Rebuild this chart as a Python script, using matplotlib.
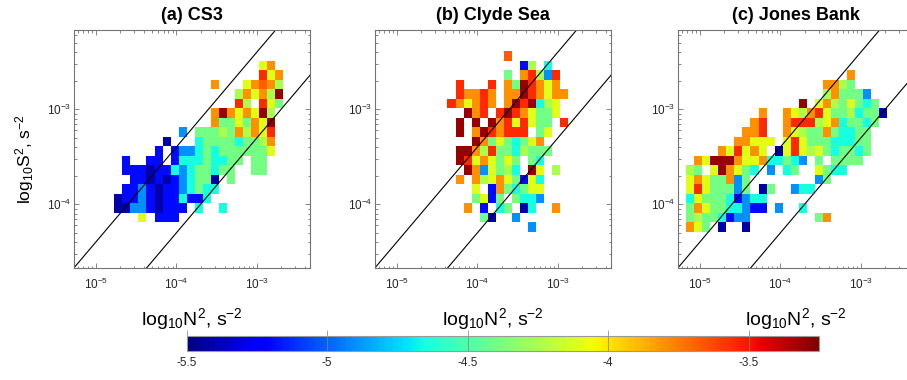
import numpy as np
import matplotlib
matplotlib.use("Agg")
import matplotlib.pyplot as plt
from matplotlib.ticker import FixedLocator, LogLocator, NullFormatter

plt.rcParams['font.family'] = ['Liberation Sans', 'DejaVu Sans']
plt.rcParams['axes.unicode_minus'] = False
plt.rcParams['mathtext.fontset'] = 'custom'
plt.rcParams['mathtext.rm'] = 'Liberation Sans'
plt.rcParams['mathtext.it'] = 'Liberation Sans'

# ---------------- data ----------------
titles = ["(a) CS3", "(b) Clyde Sea", "(c) Jones Bank"]
xlabel = r"log$_{10}$N$^2$, s$^{-2}$"
ylabel = r"log$_{10}$S$^2$, s$^{-2}$"

# colour level codes -> value of the colour variable
level_values = {'n': -5.42, 'B': -5.2, 'b': -4.9, 'c': -4.65, 'g': -4.4,
                'y': -4.25, 'Y': -4.1, 'O': -3.8, 'r': -3.68, 'R': -3.55,
                'D': -3.3}

# bin grids (top row first); '.' = empty bin
grid_a = [
    "..................YO.",
    "..................RYO",
    "............O...YOrOy",
    "...............yOYOyD",
    "...............Ry.RYg",
    "............ODOYOYDy.",
    "............OggYgOYD.",
    "........b.gggygOyOYR.",
    "......n...cggggcggyO.",
    ".....B.BbbcgcggggggY.",
    ".B..BB.Bcccgccgg.gg..",
    ".BBBnBBcbcggcgg..gg..",
    "..BBnBnBbcggn.g......",
    ".BBbBnBBbcgcc........",
    "nBBbBnBBcBBc.........",
    "nnbbBnBBB.c..c.......",
    "...Y.BBB.............",
]
first_col_a, top_row_a = 0, 15

grid_b = [
    "...........r........",
    ".............By.c...",
    "...........g.ORybR..",
    ".....R...R.OgDROYO..",
    ".....ROORO.OODROYOO.",
    "....ROYORO.ODRDcyY..",
    "......DOR.RDROYggY..",
    ".....D.D.DORYRYgg.R.",
    ".....D.ODRORRR.gY...",
    ".......DOgYgcgYO....",
    ".....DDOyRggcyggg...",
    ".....DRYOYgYg.gc....",
    "......DObYgyc.DY.y..",
    ".....O.OyYOYgBYc....",
    ".......Y.BOgcgYY....",
    ".......gYBg.gccb....",
    "......O.B.cg.nc..O..",
    "........gn..b.......",
    "..............b.....",
]
first_col_b, top_row_b = 0, 16

grid_c = [
    "....................O....",
    ".................OOyg....",
    ".................yOgggb..",
    "..............D.YOygYgcg.",
    ".........O..OYyORYggycggn",
    "........OR..ORRRyYOcggcg.",
    ".......OOR..OYyggOgccgg..",
    "......OOYYY.YRYgggcccgg..",
    "....OYRYOY.nYRYyYgcggcg..",
    ".OYDDDOYYOccgcb.g.gggg...",
    "yg.YDOYgc.b.cg..Ygcc.....",
    "YOYggObg........bg.......",
    "YRYgggbg.ng..bcc.........",
    "cYgggcBbcc...............",
    "gOYggccbBB.b..c..........",
    "gyggcBbb........gO.......",
    "OYg.n..n.................",
]
first_col_c, top_row_c = -4, 14

bin_x0 = -4.77      # log10 N^2 of left edge of column 0
bin_y0 = -4.09      # log10 S^2 of bottom edge of row 0
bin_w = 0.1         # bin width (decades)

ri_factors = [4.0, 0.5]          # S^2 = factor * N^2
clim = (-5.5, -3.25)
cbar_ticks = [-5.5, -5, -4.5, -4, -3.5]
cbar_labels = ["-5.5", "-5", "-4.5", "-4", "-3.5"]
xlim_log = (-5.27, -2.34)
ylim_log = (-4.67, -2.165)
xticks_log = [-5, -4, -3]
yticks_log = [-4, -3]

panels = [(grid_a, first_col_a, top_row_a),
          (grid_b, first_col_b, top_row_b),
          (grid_c, first_col_c, top_row_c)]

# ---------------- figure ----------------
W, H = 907, 380
fig = plt.figure(figsize=(W / 100, H / 100), dpi=100)

ax_lefts = [74, 375, 678]
ax_w, ax_top, ax_bot = 236, 30, 268

mesh = None
for k, (grid, c0, r0) in enumerate(panels):
    ax = fig.add_axes([ax_lefts[k] / W, (H - ax_bot) / H, ax_w / W,
                       (ax_bot - ax_top) / H])
    nrow, ncol = len(grid), len(grid[0])
    Z = np.full((nrow, ncol), np.nan)
    for i, row in enumerate(grid):
        for j, ch in enumerate(row):
            if ch in level_values:
                Z[i, j] = level_values[ch]
    Z = Z[::-1]
    xe = 10 ** (bin_x0 + bin_w * (c0 + np.arange(ncol + 1)))
    ye = 10 ** (bin_y0 + bin_w * (r0 - nrow + 1 + np.arange(nrow + 1)))
    mesh = ax.pcolormesh(xe, ye, np.ma.masked_invalid(Z), cmap='jet',
                         vmin=clim[0], vmax=clim[1], shading='flat')
    ax.set_xscale('log')
    ax.set_yscale('log')
    xl = np.array([10 ** xlim_log[0], 10 ** xlim_log[1]])
    for f in ri_factors:
        ax.plot(xl, f * xl, color='k', lw=0.8)
    ax.set_xlim(*xl)
    ax.set_ylim(10 ** ylim_log[0], 10 ** ylim_log[1])

    ax.xaxis.set_major_locator(FixedLocator([10.0 ** v for v in xticks_log]))
    ax.yaxis.set_major_locator(FixedLocator([10.0 ** v for v in yticks_log]))
    ax.set_xticklabels([r"$10^{%d}$" % v for v in xticks_log])
    ax.set_yticklabels([r"$10^{%d}$" % v for v in yticks_log])
    for a in (ax.xaxis, ax.yaxis):
        a.set_minor_locator(LogLocator(base=10, subs=np.arange(2, 10)))
        a.set_minor_formatter(NullFormatter())
    ax.tick_params(which='both', direction='in', top=True, right=True,
                   colors='0.45', labelcolor='0.15', labelsize=8.5, width=0.6)
    ax.tick_params(which='major', length=3.5)
    ax.tick_params(which='minor', length=1.8)
    ax.tick_params(axis='x', which='major', pad=6)
    ax.tick_params(axis='y', which='major', pad=2)
    for s in ax.spines.values():
        s.set_color('0.45')
        s.set_linewidth(0.8)

    ax.set_title(titles[k], fontsize=13, fontweight='bold', pad=7)
    ax.set_xlabel(xlabel, fontsize=14)
    ax.xaxis.set_label_coords(0.5, -0.16)
    if k == 0:
        ax.set_ylabel(ylabel, fontsize=12.5)
        ax.yaxis.set_label_coords(-0.16, 0.46)

cax = fig.add_axes([186.7 / W, (H - 351) / H, (819 - 186.7) / W, 15.3 / H])
cb = fig.colorbar(mesh, cax=cax, orientation='horizontal', ticks=cbar_ticks)
cb.ax.set_xticklabels(cbar_labels)
cb.ax.tick_params(labelsize=8.5, direction='in', length=15, width=0.5,
                  colors='0.5', labelcolor='0.15', pad=4)
cb.outline.set_edgecolor('0.6')
cb.outline.set_linewidth(0.8)

fig.savefig("out.png", dpi=100)
